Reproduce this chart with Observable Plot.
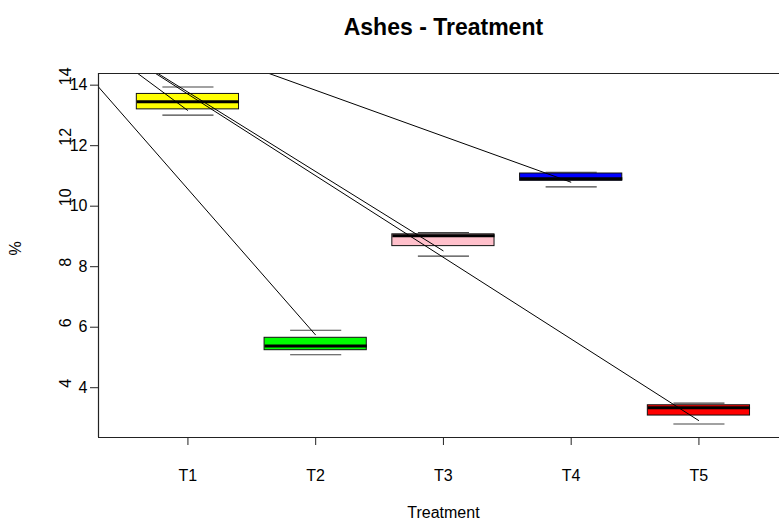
<!DOCTYPE html>
<html>
<head>
<meta charset="utf-8">
<script src="https://cdn.jsdelivr.net/npm/d3@7"></script>
<script src="https://cdn.jsdelivr.net/npm/@observablehq/plot@0.6"></script>
<style>
  html, body { margin: 0; padding: 0; background: #fff; overflow: hidden; }
  #chart { width: 779px; height: 529px; overflow: hidden; }
  #chart svg { font-family: "Liberation Sans", Arial, sans-serif; overflow: hidden; }
</style>
</head>
<body>
<div id="chart"></div>
<script>
// ---- data ----
const categories = ["T1", "T2", "T3", "T4", "T5"];
const boxFills = ["#ffff00", "#00ff00", "#ffc0cb", "#0000ff", "#ff0000"];
const whiskerLow  = [13.01, 5.09, 8.35, 10.64, 2.80];
const lowerQuart  = [13.20, 5.24, 8.68, 10.84, 3.08];
const medians     = [13.45, 5.38, 9.02, 10.91, 3.34];
const upperQuart  = [13.71, 5.65, 9.07, 11.08, 3.42];
const whiskerHigh = [13.94, 5.90, 9.13, 11.12, 3.49];
// stray line segments (start/end, in data units: group position and %)
const segX0 = [0.603, 0.30, 0.76, 1.626, 0.742];
const segY0 = [14.40, 13.94, 14.40, 14.40, 14.40];
const segX1 = [1, 2, 3, 4, 5];
const segY1 = [13.16, 5.74, 8.52, 10.79, 2.91];
const yTicks = [4, 6, 8, 10, 12, 14];
const titleText = "Ashes - Treatment";
const xLabel = "Treatment";
const yLabel = "%";

// ---- tables for the library ----
const rows = categories.map((c, i) => ({
  pos: i + 1, cat: c, fill: boxFills[i],
  lo: whiskerLow[i], q1: lowerQuart[i], med: medians[i], q3: upperQuart[i], hi: whiskerHigh[i]
}));
const segs = segX0.map((x, i) => ({x0: x, y0: segY0[i], x1: segX1[i], y1: segY1[i]}));

// R-style axis extents (4% padding)
const n = categories.length;
const xDom = [0.5 - 0.04 * n, n + 0.5 + 0.04 * n];
const yMin = d3.min(whiskerLow), yMax = d3.max(whiskerHigh);
const yPad = 0.04 * (yMax - yMin);
const yDom = [yMin - yPad, yMax + yPad];

const W = 779, H = 529, mL = 98, mT = 73, mB = 92;
const step = 127.75;
const xRange = [mL, mL + step * (xDom[1] - xDom[0])];

const chart = Plot.plot({
  width: W,
  height: H,
  marginLeft: mL,
  marginTop: mT,
  marginBottom: mB,
  marginRight: 0,
  style: {fontFamily: "'Liberation Sans', Arial, sans-serif", fontSize: "16px", color: "black", background: "white"},
  x: {domain: xDom, range: xRange, axis: null},
  y: {domain: yDom, axis: null},
  color: {type: "identity"},
  marks: [
    // boxes
    Plot.rect(rows, {x1: d => d.pos - 0.4, x2: d => d.pos + 0.4, y1: "q1", y2: "q3", fill: "fill", stroke: "#111", strokeWidth: 1}),
    Plot.link(rows, {x1: d => d.pos - 0.4, x2: d => d.pos + 0.4, y1: "med", y2: "med", stroke: "black", strokeWidth: 3, strokeLinecap: "butt"}),
    // staples
    Plot.link(rows, {x1: d => d.pos - 0.2, x2: d => d.pos + 0.2, y1: "lo", y2: "lo", stroke: "#444", strokeWidth: 1.2}),
    Plot.link(rows, {x1: d => d.pos - 0.2, x2: d => d.pos + 0.2, y1: "hi", y2: "hi", stroke: "#444", strokeWidth: 1.2}),
    // stray lines
    Plot.link(segs, {x1: "x0", y1: "y0", x2: "x1", y2: "y1", stroke: "black", strokeWidth: 1, clip: true}),
    // frame (right side is cut off)
    Plot.ruleX([xDom[0]], {stroke: "#222", strokeWidth: 1.2}),
    Plot.ruleY(yDom, {stroke: "#222", strokeWidth: 1.2}),
    // axes
    Plot.axisX({ticks: rows.map(d => d.pos), tickFormat: i => categories[i - 1], tickSize: 8, tickPadding: 24, fontSize: 16, label: null, stroke: "#222"}),
    Plot.axisY({ticks: yTicks, tickSize: 8, tickFormat: null, label: null, stroke: "#222"}),
    Plot.text(yTicks, {y: d => d, text: d => String(d), frameAnchor: "left", dx: -33, rotate: -90, fontSize: 16}),
    // labels
    Plot.text([yLabel], {frameAnchor: "left", dx: -83, rotate: -90, fontSize: 16}),
    Plot.text([xLabel], {x: () => (n + 1) / 2, frameAnchor: "bottom", lineAnchor: "middle", dy: 75, fontSize: 16}),
    Plot.text([titleText], {x: () => (n + 1) / 2, frameAnchor: "top", lineAnchor: "middle", dy: -46, fontSize: 23, fontWeight: "bold"})
  ]
});
document.getElementById("chart").appendChild(chart);
</script>
</body>
</html>
